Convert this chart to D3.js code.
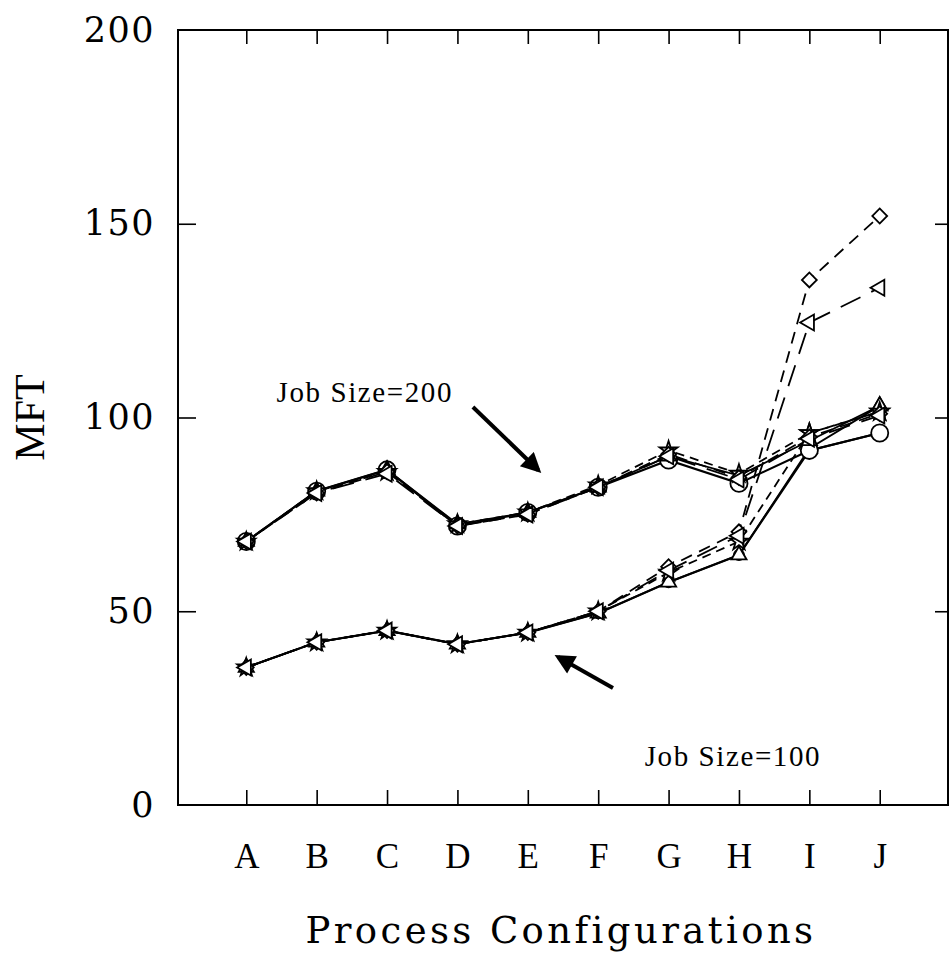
<!DOCTYPE html>
<html>
<head>
<meta charset="utf-8">
<script src="https://cdn.jsdelivr.net/npm/d3@7"></script>
<style>
  body { margin: 0; background: #fff; }
  svg { display: block; }
</style>
</head>
<body>
<div id="chart"></div>
<script>
const width = 951,
  height = 953,
  margin = { top: 30, bottom: 148, left: 178, right: 3 };

// process configurations (x axis)
const categories = ["A", "B", "C", "D", "E", "F", "G", "H", "I", "J"];
const yTicks = [0, 50, 100, 150, 200];

// Job Size = 200
const js200Circle  = [68, 81, 86.5, 72, 75.5, 82, 89, 83, 91.5, 96];
const js200Star    = [68, 81, 86, 72.5, 75.5, 82.5, 91.5, 85.5, 96, 101.5];
const js200Diamond = [68, 80.5, 86, 72, 75, 82, 90.5, 84.5, 95, 101];
const js200TriLeft = [68, 80.5, 85.5, 72, 75, 82, 90, 84, 94.5, 100.5];
const js200TriUp   = [68, 81, 86.5, 72.5, 75.5, 82, 90, 85, 94, 103];

// Job Size = 100
const js100Circle  = [35.5, 42, 45, 41.5, 44.5, 49.5, 57.5, 64.5, 91.5, 96];
const js100Star    = [35.5, 42, 45, 41.5, 44.5, 50, 60, 68, 96, 101.5];
const js100Diamond = [35.5, 42, 45, 41.5, 44.5, 50, 61.5, 70.5, 135.5, 152];
const js100TriLeft = [35.5, 42, 45, 41.5, 44.5, 50, 60.5, 69.5, 124.5, 133.5];
const js100TriUp   = [35.5, 42, 45, 41.5, 44.5, 49.5, 57.5, 64.5, 92, 103];

// line style / marker per series
const styles = {
  circle:  { dash: null,    symbol: d3.symbolCircle,   size: 230, rotate: 0 },
  triUp:   { dash: null,    symbol: d3.symbolTriangle, size: 100, rotate: 0 },
  star:    { dash: "9,6",   symbol: d3.symbolStar,     size: 100, rotate: 0 },
  diamond: { dash: "12,8",  symbol: d3.symbolSquare,   size: 110, rotate: 45 },
  triLeft: { dash: "22,12", symbol: d3.symbolTriangle, size: 110, rotate: -90 }
};

// job size 100 first so the job size 200 markers sit on top
const series = [
  { key: "100-circle", group: 100, type: "circle", values: js100Circle },
  { key: "100-triUp", group: 100, type: "triUp", values: js100TriUp },
  { key: "100-star", group: 100, type: "star", values: js100Star },
  { key: "100-diamond", group: 100, type: "diamond", values: js100Diamond },
  { key: "100-triLeft", group: 100, type: "triLeft", values: js100TriLeft },
  { key: "200-circle", group: 200, type: "circle", values: js200Circle },
  { key: "200-triUp", group: 200, type: "triUp", values: js200TriUp },
  { key: "200-star", group: 200, type: "star", values: js200Star },
  { key: "200-diamond", group: 200, type: "diamond", values: js200Diamond },
  { key: "200-triLeft", group: 200, type: "triLeft", values: js200TriLeft }
];

const plotRight = width - margin.right;
const plotBottom = height - margin.bottom;

const xScale = d3.scalePoint()
  .domain(categories)
  .range([margin.left, plotRight])
  .padding(0.97);

const yScale = d3.scaleLinear()
  .domain([0, 200])
  .range([plotBottom, margin.top]);

// fractional category position, for annotations
const xIdx = i => xScale(categories[0]) + i * xScale.step();

const svg = d3.select("#chart")
  .append("svg")
  .attr("width", width)
  .attr("height", height);

// frame
svg.append("rect")
  .attr("x", margin.left)
  .attr("y", margin.top)
  .attr("width", plotRight - margin.left)
  .attr("height", plotBottom - margin.top)
  .attr("fill", "none")
  .attr("stroke", "#000")
  .attr("stroke-width", 2);

// axes (ticks pointing inward)
const axisStyle = g => {
  g.select(".domain").remove();
  g.selectAll(".tick line").attr("stroke", "#000").attr("stroke-width", 1.6);
};

svg.append("g")
  .attr("transform", `translate(0,${plotBottom})`)
  .call(d3.axisBottom(xScale).tickSize(-15).tickPadding(38))
  .call(axisStyle)
  .call(g => g.selectAll("text")
    .attr("font-family", "Liberation Serif, serif")
    .attr("font-size", 35)
    .attr("fill", "#000"));

svg.append("g")
  .attr("transform", `translate(0,${margin.top})`)
  .call(d3.axisTop(xScale).tickSize(-14).tickFormat(""))
  .call(axisStyle);

svg.append("g")
  .attr("transform", `translate(${margin.left},0)`)
  .call(d3.axisLeft(yScale).tickValues(yTicks).tickSize(-18).tickPadding(23))
  .call(axisStyle)
  .call(g => g.selectAll(".tick line").filter(d => d === 0 || d === 200).remove())
  .call(g => g.selectAll("text")
    .attr("font-family", "DejaVu Serif, serif")
    .attr("font-size", 35)
    .attr("letter-spacing", 1.5)
    .attr("fill", "#000"));

svg.append("g")
  .attr("transform", `translate(${plotRight},0)`)
  .call(d3.axisRight(yScale).tickValues([50, 100, 150]).tickSize(-13).tickFormat(""))
  .call(axisStyle);

// axis titles
svg.append("text")
  .attr("transform", `translate(44,${yScale(100)}) rotate(-90)`)
  .attr("text-anchor", "middle")
  .attr("font-family", "Liberation Serif, serif")
  .attr("font-size", 42)
  .text("MFT");

svg.append("text")
  .attr("x", (margin.left + plotRight) / 2 - 2)
  .attr("y", 943)
  .attr("text-anchor", "middle")
  .attr("font-family", "DejaVu Serif, serif")
  .attr("font-size", 37)
  .attr("letter-spacing", 3.4)
  .text("Process Configurations");

// lines
const line = d3.line()
  .x((d, i) => xScale(categories[i]))
  .y(d => yScale(d));

svg.selectAll(".series")
  .data(series)
  .join("path")
  .attr("class", "series")
  .attr("d", d => line(d.values))
  .attr("fill", "none")
  .attr("stroke", "#000")
  .attr("stroke-width", d => d.type === "circle" ? 2.2 : 1.8)
  .attr("stroke-dasharray", d => styles[d.type].dash);

// markers (circles of the smaller job size are drawn smaller)
const points = series.flatMap(s =>
  s.values.map((v, i) => ({
    type: s.type,
    cat: categories[i],
    value: v,
    size: s.type === "circle" && s.group === 100 ? 80 : styles[s.type].size
  }))
);

svg.selectAll(".marker")
  .data(points)
  .join("path")
  .attr("class", "marker")
  .attr("d", d => d3.symbol().type(styles[d.type].symbol).size(d.size)())
  .attr("transform", d =>
    `translate(${xScale(d.cat)},${yScale(d.value)}) rotate(${styles[d.type].rotate})`)
  .attr("fill", "#fff")
  .attr("stroke", "#000")
  .attr("stroke-width", 1.8);

// annotations
svg.append("defs").append("marker")
  .attr("id", "head")
  .attr("viewBox", "0 0 10 10")
  .attr("refX", 8)
  .attr("refY", 5)
  .attr("markerWidth", 5.5)
  .attr("markerHeight", 5)
  .attr("orient", "auto")
  .append("path")
  .attr("d", "M0,0L10,5L0,10z")
  .attr("fill", "#000");

const notes = [
  { label: "Job Size=200", tx: 0.43, ty: 104, from: [3.22, 102.7], to: [4.15, 86.4] },
  { label: "Job Size=100", tx: 5.66, ty: 10, from: [5.21, 30.2], to: [4.43, 38.2] }
];

svg.selectAll(".note-arrow")
  .data(notes)
  .join("line")
  .attr("class", "note-arrow")
  .attr("x1", d => xIdx(d.from[0]))
  .attr("y1", d => yScale(d.from[1]))
  .attr("x2", d => xIdx(d.to[0]))
  .attr("y2", d => yScale(d.to[1]))
  .attr("stroke", "#000")
  .attr("stroke-width", 4)
  .attr("marker-end", "url(#head)");

svg.selectAll(".note-text")
  .data(notes)
  .join("text")
  .attr("class", "note-text")
  .attr("x", d => xIdx(d.tx))
  .attr("y", d => yScale(d.ty))
  .attr("font-family", "Liberation Serif, serif")
  .attr("font-size", 29)
  .attr("letter-spacing", 1.6)
  .text(d => d.label);
</script>
</body>
</html>
